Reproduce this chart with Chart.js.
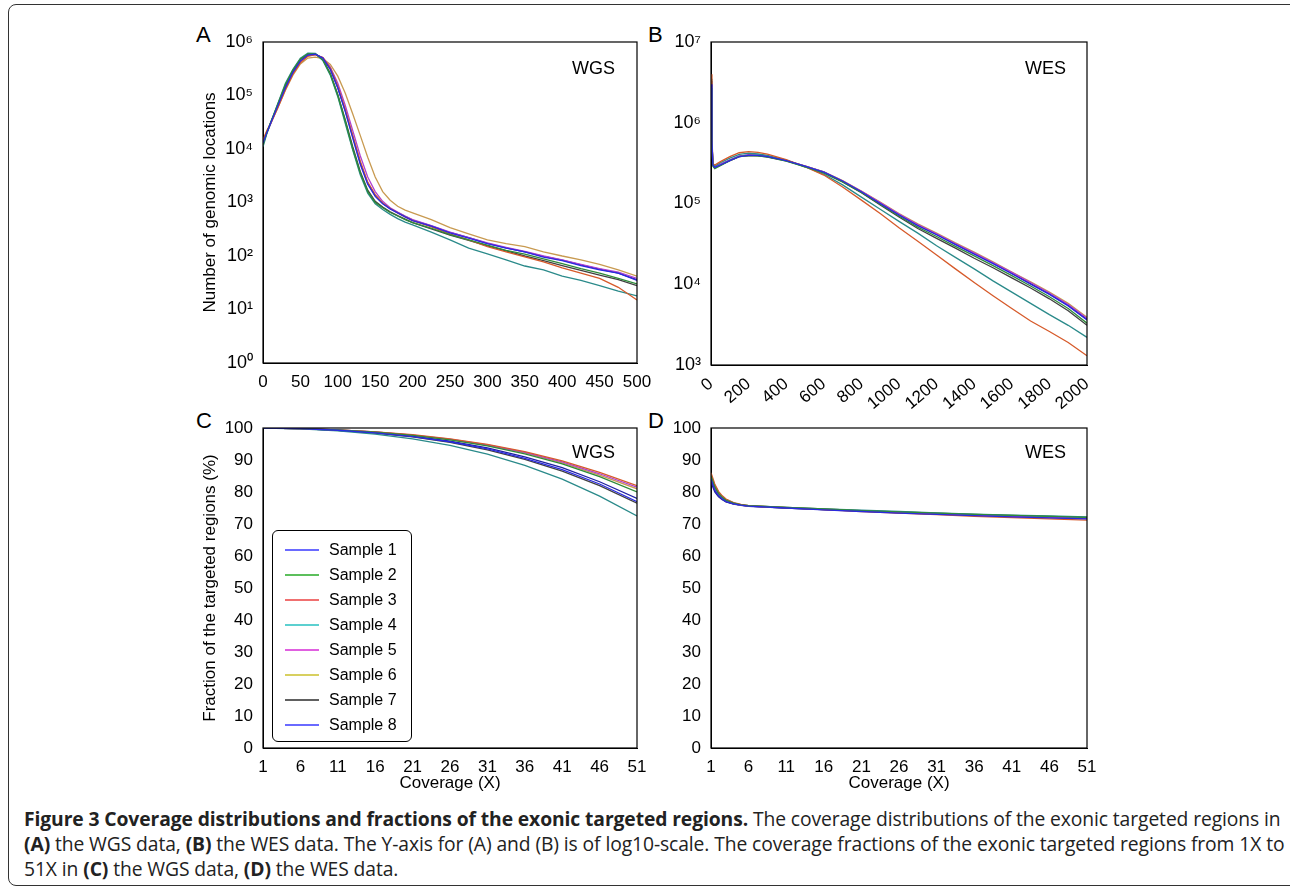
<!DOCTYPE html>
<html>
<head>
<meta charset="utf-8">
<title>Figure 3</title>
<script src="https://cdn.jsdelivr.net/npm/chart.js"></script>
<style>
body { margin:0; width:1290px; height:890px; background:#fff; position:relative; overflow:hidden; font-family:"Liberation Sans", Arial, sans-serif; }
.frame { position:absolute; left:8px; top:4px; width:1300px; height:880px; border:1.5px solid #333; border-radius:8px; }
.cv { position:absolute; }
.lbl { position:absolute; font-size:22px; color:#000; }
.tag { position:absolute; font-size:18px; }
.legend { position:absolute; left:272px; top:530px; width:140px; height:212px; border:1.5px solid #000; border-radius:6px; background:#fff; font-size:16px; box-sizing:border-box; padding-top:6px; }
.legend div { height:25px; line-height:25px; position:relative; padding-left:56px; }
.legend span { position:absolute; left:12px; top:12px; width:34px; height:1.5px; }
.cap { position:absolute; left:24px; top:806px; font-family:"Open Sans", sans-serif; font-size:19.3px; line-height:25px; color:#222; white-space:nowrap; letter-spacing:-0.1px; }
</style>
</head>
<body>
<div class="frame"></div>
<div class="lbl" style="left:196px;top:22px">A</div>
<div class="lbl" style="left:648px;top:22px">B</div>
<div class="lbl" style="left:196px;top:408px">C</div>
<div class="lbl" style="left:648px;top:408px">D</div>
<canvas id="cA" class="cv" style="left:200px;top:28px" width="460" height="372"></canvas>
<canvas id="cB" class="cv" style="left:640px;top:28px" width="470" height="400"></canvas>
<canvas id="cC" class="cv" style="left:200px;top:414px" width="460" height="380"></canvas>
<canvas id="cD" class="cv" style="left:640px;top:414px" width="470" height="380"></canvas>
<div class="tag" style="left:572px;top:58px">WGS</div>
<div class="tag" style="left:1025px;top:58px">WES</div>
<div class="tag" style="left:572px;top:442px">WGS</div>
<div class="tag" style="left:1025px;top:442px">WES</div>
<div class="legend" id="leg"></div>
<div class="cap">
<b>Figure 3 Coverage distributions and fractions of the exonic targeted regions.</b> The coverage distributions of the exonic targeted regions in<br>
<b>(A)</b> the WGS data, <b>(B)</b> the WES data. The Y-axis for (A) and (B) is of log10-scale. The coverage fractions of the exonic targeted regions from 1X to<br>
51X in <b>(C)</b> the WGS data, <b>(D)</b> the WES data.
</div>
<script>
const sampleNames = ['Sample 1','Sample 2','Sample 3','Sample 4','Sample 5','Sample 6','Sample 7','Sample 8'];
const lineColors = ['#2a2ae0','#2e8b3a','#d65a2a','#2a8a8a','#b040d0','#c89a50','#404040','#2020a0'];
const legendColors = ['#6a6aff','#5cbf5c','#f07070','#5cd0d0','#e060e0','#d8d060','#606060','#6a6aff'];

// Panel A: WGS coverage distribution
const xA = [0,5,10,20,30,40,50,60,70,80,90,100,110,120,130,140,150,160,170,180,190,200,225,250,275,300,325,350,375,400,425,450,475,500];
const a1 = [1.3e4,2e4,3e4,6.5e4,1.4e5,2.7e5,4.4e5,5.7e5,5.9e5,5e5,3.1e5,1.4e5,5e4,1.6e4,5.2e3,2.2e3,1.3e3,950,760,640,540,460,360,270,215,170,140,120,95,82,66,55,48,35];
const a2 = [1.2e4,2e4,3.1e4,7e4,1.6e5,3e5,4.8e5,6e5,6e5,4.6e5,2.5e5,1e5,3.3e4,1e4,3.6e3,1.6e3,1e3,800,650,560,480,420,330,250,200,160,128,108,88,72,58,48,38,30];
const a3 = [1.5e4,2.2e4,3e4,6e4,1.3e5,2.5e5,4.1e5,5.4e5,5.8e5,5.1e5,3.3e5,1.5e5,5.5e4,1.8e4,6e3,2.4e3,1.4e3,980,770,640,540,460,350,260,200,150,120,96,78,60,48,38,26,15];
const a4 = [1.1e4,1.9e4,3e4,7.2e4,1.7e5,3.1e5,5e5,6.2e5,6.1e5,4.5e5,2.4e5,9.5e4,3e4,9.5e3,3.3e3,1.5e3,950,740,600,500,430,380,280,200,140,110,85,65,55,42,35,28,22,18];
const a5 = [1.3e4,2e4,2.9e4,6.3e4,1.35e5,2.6e5,4.3e5,5.6e5,5.8e5,5.1e5,3.4e5,1.7e5,6.5e4,2.2e4,7.5e3,3e3,1.6e3,1.05e3,800,660,560,480,370,280,220,175,145,122,100,85,70,58,50,38];
const a6 = [1.4e4,2.1e4,2.9e4,6e4,1.25e5,2.4e5,3.9e5,5e5,5.2e5,4.9e5,3.8e5,2.3e5,1.1e5,4.5e4,1.8e4,7e3,3e3,1.6e3,1.1e3,850,720,640,480,340,260,200,170,150,120,100,85,70,55,42];
const a7 = [1.2e4,2e4,3e4,6.8e4,1.5e5,2.9e5,4.7e5,5.9e5,6e5,4.7e5,2.6e5,1.05e5,3.5e4,1.1e4,3.8e3,1.7e3,1.05e3,820,670,570,490,420,320,245,195,155,125,100,82,66,54,44,36,28];
const a8 = [1.3e4,2e4,3e4,6.4e4,1.4e5,2.7e5,4.4e5,5.7e5,5.9e5,5e5,3.1e5,1.4e5,5.2e4,1.7e4,5.5e3,2.3e3,1.35e3,970,770,650,550,470,365,275,220,172,142,120,98,84,68,57,48,36];

// Panel B: WES coverage distribution
const xB = [0,5,10,20,50,100,150,200,250,300,400,500,600,700,800,900,1000,1100,1200,1300,1400,1500,1600,1700,1800,1900,2000];
const b1 = [3e6,6e5,3e5,2.8e5,3e5,3.4e5,3.8e5,3.95e5,3.95e5,3.8e5,3.4e5,2.9e5,2.45e5,1.9e5,1.4e5,1e5,7.2e4,5.3e4,4.1e4,3.1e4,2.35e4,1.8e4,1.35e4,1e4,7.5e3,5.4e3,3.6e3];
const b2 = [2.7e6,5.5e5,2.9e5,2.7e5,2.95e5,3.4e5,3.8e5,3.95e5,3.9e5,3.75e5,3.35e5,2.85e5,2.4e5,1.85e5,1.37e5,9.8e4,7e4,5.1e4,3.9e4,2.95e4,2.25e4,1.7e4,1.28e4,9.5e3,7e3,5e3,3.3e3];
const b3 = [4e6,7e5,3.1e5,3e5,3.3e5,3.8e5,4.25e5,4.4e5,4.3e5,4.1e5,3.5e5,2.85e5,2.25e5,1.6e5,1.1e5,7.5e4,5e4,3.4e4,2.3e4,1.55e4,1.05e4,7.2e3,5e3,3.5e3,2.6e3,1.9e3,1.3e3];
const b4 = [3.5e6,6.5e5,3e5,2.9e5,3.2e5,3.65e5,4.05e5,4.2e5,4.1e5,3.95e5,3.45e5,2.85e5,2.3e5,1.7e5,1.2e5,8.5e4,6e4,4.3e4,3e4,2.15e4,1.55e4,1.1e4,8e3,5.8e3,4.2e3,3.1e3,2.2e3];
const b5 = [3.2e6,6e5,3e5,2.85e5,3.05e5,3.45e5,3.85e5,4e5,3.95e5,3.8e5,3.4e5,2.9e5,2.45e5,1.9e5,1.42e5,1.03e5,7.4e4,5.5e4,4.2e4,3.2e4,2.45e4,1.85e4,1.4e4,1.05e4,7.8e3,5.6e3,3.8e3];
const b6 = [3.1e6,6e5,2.95e5,2.8e5,3e5,3.4e5,3.8e5,3.95e5,3.95e5,3.8e5,3.4e5,2.92e5,2.47e5,1.92e5,1.43e5,1.04e5,7.5e4,5.6e4,4.3e4,3.25e4,2.5e4,1.9e4,1.42e4,1.07e4,8e3,5.8e3,3.9e3];
const b7 = [2.9e6,5.8e5,2.95e5,2.8e5,3e5,3.4e5,3.8e5,3.9e5,3.9e5,3.78e5,3.38e5,2.88e5,2.4e5,1.85e5,1.36e5,9.6e4,6.8e4,4.9e4,3.7e4,2.8e4,2.1e4,1.6e4,1.2e4,9e3,6.6e3,4.7e3,3.1e3];
const b8 = [3.3e6,6e5,3e5,2.85e5,3.05e5,3.45e5,3.85e5,4e5,3.95e5,3.82e5,3.42e5,2.9e5,2.46e5,1.9e5,1.41e5,1.01e5,7.3e4,5.4e4,4.15e4,3.15e4,2.4e4,1.82e4,1.37e4,1.02e4,7.6e3,5.5e3,3.7e3];

// Panel C: WGS coverage fraction (%)
const xC = [1,6,11,16,21,26,31,36,41,46,51];
const c1 = [100,99.8,99.3,98.5,97.3,95.7,93.5,90.5,87,82.5,77];
const c2 = [100,99.8,99.4,98.7,97.7,96.3,94.4,91.9,88.8,84.8,80];
const c3 = [100,99.8,99.4,98.8,97.9,96.6,94.9,92.6,89.7,86.1,82];
const c4 = [100,99.7,99.1,98.1,96.6,94.6,91.8,88.3,84,78.7,72.5];
const c5 = [100,99.8,99.4,98.8,97.8,96.5,94.7,92.4,89.4,85.7,81.5];
const c6 = [100,99.8,99.4,98.8,97.8,96.4,94.6,92.2,89.1,85.3,81];
const c7 = [100,99.8,99.3,98.4,97.2,95.5,93.2,90.2,86.5,82,76.5];
const c8 = [100,99.8,99.3,98.6,97.5,95.9,93.8,91,87.6,83.2,78];

// Panel D: WES coverage fraction (%)
const xD = [1,1.5,2,2.5,3,4,5,6,11,16,21,26,31,36,41,46,51];
const d1 = [84,80.5,78.8,77.8,77,76.3,75.9,75.6,75,74.4,73.9,73.4,73,72.6,72.2,71.9,71.6];
const d2 = [85,81.5,79.5,78.3,77.4,76.5,76,75.7,75.2,74.7,74.2,73.8,73.4,73,72.7,72.4,72.1];
const d3 = [86,82.5,80.2,78.8,77.8,76.7,76.1,75.7,75.1,74.5,73.9,73.4,72.9,72.4,72,71.6,71.2];
const d4 = [85.5,82,79.8,78.5,77.6,76.6,76,75.7,75.2,74.7,74.3,73.9,73.5,73.1,72.8,72.5,72.2];
const d5 = [84.5,81,79.2,78.1,77.3,76.4,75.9,75.6,75.1,74.6,74.1,73.6,73.2,72.8,72.4,72.1,71.8];
const d6 = [85,81.5,79.5,78.3,77.4,76.5,76,75.7,75.2,74.7,74.2,73.8,73.4,73,72.7,72.4,72.1];
const d7 = [84,80.5,78.8,77.8,77,76.3,75.9,75.6,75,74.5,74,73.6,73.2,72.8,72.4,72.1,71.8];
const d8 = [83,80,78.5,77.6,76.9,76.2,75.8,75.5,75,74.5,74,73.5,73.1,72.7,72.3,72,71.7];

const ticksA = [0,50,100,150,200,250,300,350,400,450,500];
const ticksB = [0,200,400,600,800,1000,1200,1400,1600,1800,2000];
const ticksCD = [1,6,11,16,21,26,31,36,41,46,51];
const ticksPct = [0,10,20,30,40,50,60,70,80,90,100];

const sup = {'0':'⁰','1':'¹','2':'²','3':'³','4':'⁴','5':'⁵','6':'⁶','7':'⁷'};
const tickFont = { family: '"Liberation Sans", Arial, sans-serif', size: 17 };

const boxPlugin = {
    id: 'box',
    afterDatasetsDraw(chart) {
        const a = chart.chartArea, c = chart.ctx;
        c.save();
        c.strokeStyle = '#000';
        c.lineWidth = 1.2;
        c.strokeRect(a.left, a.top, a.right - a.left, a.bottom - a.top);
        c.restore();
    }
};

function sets(xs, ys) {
    return ys.map((y, i) => ({
        label: sampleNames[i],
        data: xs.map((x, j) => ({ x: x, y: y[j] })),
        borderColor: lineColors[i],
        borderWidth: 1.3,
        pointRadius: 0,
        tension: 0,
        fill: false
    }));
}

function makeChart(id, xs, ys, cfg) {
    const yScale = cfg.log ? {
        type: 'logarithmic', min: cfg.ymin, max: cfg.ymax,
        afterBuildTicks: s => { s.ticks = cfg.yTicks.map(v => ({ value: v })); },
        ticks: { color: '#000', font: { family: tickFont.family, size: 18 }, padding: 2,
            callback: v => '10' + sup[String(Math.round(Math.log10(v)))] }
    } : {
        type: 'linear', min: 0, max: 100,
        afterBuildTicks: s => { s.ticks = ticksPct.map(v => ({ value: v })); },
        ticks: { color: '#000', font: tickFont, padding: 2 }
    };
    yScale.grid = { display: false };
    yScale.border = { color: '#000' };
    yScale.afterFit = s => { s.width = cfg.yw; };
    yScale.title = { display: !!cfg.ytitle, text: cfg.ytitle, color: '#000', font: tickFont, padding: 0 };

    return new Chart(document.getElementById(id), {
        type: 'line',
        data: { datasets: sets(xs, ys) },
        options: {
            responsive: false,
            animation: false,
            layout: { padding: { top: cfg.pt, right: cfg.pr, left: 0, bottom: 0 } },
            plugins: { legend: { display: false }, tooltip: { enabled: false } },
            scales: {
                x: {
                    type: 'linear', min: cfg.xmin, max: cfg.xmax,
                    afterBuildTicks: s => { s.ticks = cfg.xTicks.map(v => ({ value: v })); },
                    ticks: { color: '#000', font: tickFont, padding: 1,
                        maxRotation: cfg.rot, minRotation: cfg.rot, autoSkip: false,
                        callback: v => String(v) },
                    grid: { display: false },
                    border: { color: '#000' },
                    title: { display: !!cfg.xtitle, text: cfg.xtitle, color: '#000', font: tickFont, padding: 0 },
                    afterFit: s => { s.height = cfg.xh; }
                },
                y: yScale
            }
        },
        plugins: [boxPlugin]
    });
}

makeChart('cA', xA, [a1,a2,a3,a4,a5,a6,a7,a8], {
    log: true, ymin: 1, ymax: 1e6, yTicks: [1,10,100,1000,1e4,1e5,1e6],
    xmin: 0, xmax: 500, xTicks: ticksA, rot: 0,
    yw: 63, xh: 37, pt: 14, pr: 23, ytitle: 'Number of genomic locations', xtitle: ''
});
makeChart('cB', xB, [b1,b2,b3,b4,b5,b6,b7,b8], {
    log: true, ymin: 1e3, ymax: 1e7, yTicks: [1e3,1e4,1e5,1e6,1e7],
    xmin: 0, xmax: 2000, xTicks: ticksB, rot: 40,
    yw: 71, xh: 63, pt: 14, pr: 23, ytitle: '', xtitle: ''
});
makeChart('cC', xC, [c1,c2,c3,c4,c5,c6,c7,c8], {
    log: false, xmin: 1, xmax: 51, xTicks: ticksCD, rot: 0,
    yw: 63, xh: 46, pt: 14, pr: 23, ytitle: 'Fraction of the targeted regions (%)', xtitle: 'Coverage (X)'
});
makeChart('cD', xD, [d1,d2,d3,d4,d5,d6,d7,d8], {
    log: false, xmin: 1, xmax: 51, xTicks: ticksCD, rot: 0,
    yw: 71, xh: 46, pt: 14, pr: 23, ytitle: '', xtitle: 'Coverage (X)'
});

const leg = document.getElementById('leg');
sampleNames.forEach((n, i) => {
    const d = document.createElement('div');
    d.innerHTML = '<span style="background:' + legendColors[i] + '"></span>' + n;
    leg.appendChild(d);
});
</script>
</body>
</html>
